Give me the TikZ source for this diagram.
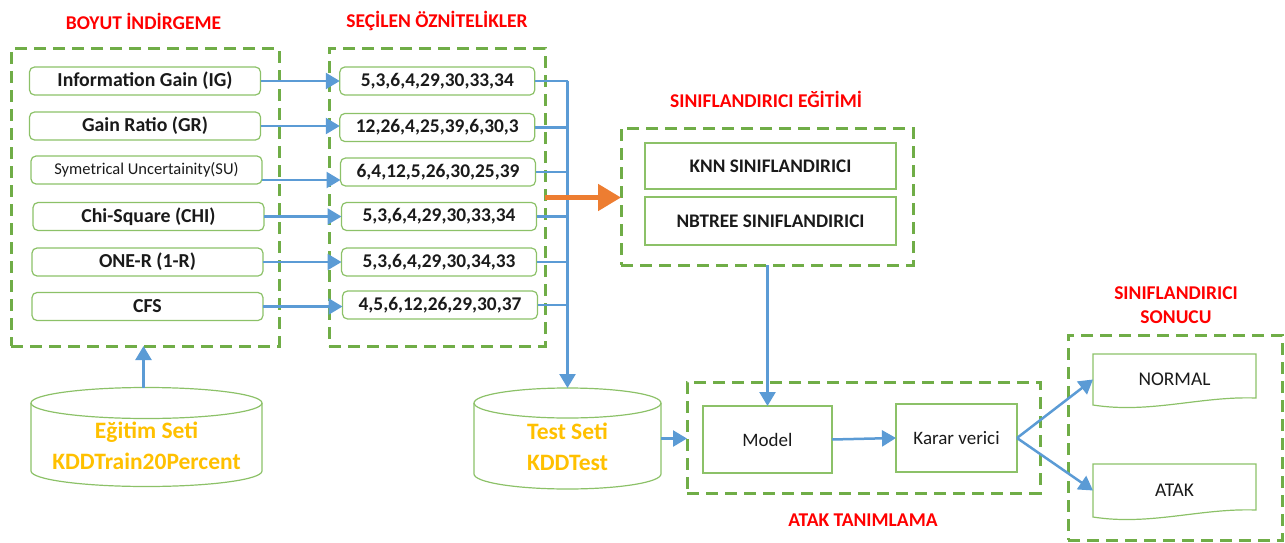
\documentclass[tikz,border=0pt]{standalone}
\usepackage{fontspec}
\setmainfont{Carlito}
\usetikzlibrary{arrows.meta,calc}
\definecolor{grn}{HTML}{70AD47}
\definecolor{lgrn}{HTML}{8CC168}
\definecolor{blu}{HTML}{5B9BD5}
\definecolor{org}{HTML}{ED7D31}
\definecolor{ylw}{HTML}{FFC000}
\definecolor{txt}{HTML}{1A1A1A}
\tikzset{
 grp/.style={draw=grn, line width=3pt, dash pattern=on 12pt off 7pt, inner sep=0pt, outer sep=0pt},
 ttl/.style={text=red, font=\fontsize{19.5}{24}\selectfont\bfseries, align=center},
 meth/.style={draw=lgrn, line width=1.2pt, rounded corners=5pt, minimum width=231pt, minimum height=28pt, inner sep=0pt, outer sep=0pt, font=\fontsize{19.8}{20}\selectfont\bfseries, text=txt},
 feat/.style={meth, minimum width=195pt, font=\fontsize{19.4}{20}\selectfont\bfseries},
 clfbox/.style={draw=lgrn, line width=1.2pt, minimum width=251pt, inner sep=0pt, outer sep=0pt, font=\fontsize{19.2}{20}\selectfont\bfseries, text=txt},
 plainbox/.style={draw=lgrn, line width=1.2pt, inner sep=0pt, outer sep=0pt, font=\fontsize{19}{20}\selectfont, text=txt},
 ghost/.style={inner sep=0pt, outer sep=0pt},
 cyl/.style={draw=lgrn, line width=1.2pt},
 cyltext/.style={text=ylw, font=\fontsize{23.5}{31}\selectfont\bfseries, align=center},
 arr/.style={draw=blu, line width=2.5pt, -{Triangle[length=14pt,width=16pt]}},
 lin/.style={draw=blu, line width=2.5pt},
 oarr/.style={draw=org, line width=5pt, -{Triangle[length=23pt,width=26pt]}},
}
\newcommand\docshape[1]{\draw[cyl] (#1.south west) -- (#1.north west) -- (#1.north east) -- ($(#1.south east)+(0,-7)$) .. controls ($(#1.south east)+(-56,-9)$) and ($(#1.south west)+(57,9)$) .. (#1.south west) -- cycle;}
\newcommand\cylshape[3]{\draw[cyl] (#1.north west) -- (#1.south west) arc[start angle=180, end angle=0, x radius=#2, y radius=#3] -- (#1.north east);
\draw[cyl] (#1.north) ellipse[x radius=#2, y radius=#3];}
\begin{document}
\begin{tikzpicture}[x=1pt,y=-1pt]
\useasboundingbox (0,0) rectangle (1285,543);
% titles
\node[ttl] (t1) at (143.5,21) {BOYUT İNDİRGEME};
\node[ttl] (t2) at (437,21) {SEÇİLEN ÖZNİTELİKLER};
\node[ttl] (t3) at (766,99) {SINIFLANDIRICI EĞİTİMİ};
\node[ttl] (t4) at (1176,305) {SINIFLANDIRICI\\SONUCU};
\node[ttl] (t5) at (863,520) {ATAK TANIMLAMA};
% group boxes
\node[grp, minimum width=268pt, minimum height=297pt] (dimred) at (145,197.5) {};
\node[grp, minimum width=216pt, minimum height=297pt] (selbox) at (437,197.5) {};
\node[grp, minimum width=292pt, minimum height=137pt] (clf) at (767,196.5) {};
\node[grp, minimum width=353pt, minimum height=111pt] (atakbox) at (863.5,437.5) {};
\node[grp, minimum width=214pt, minimum height=205pt] (sonuc) at (1175,437.5) {};
% methods
\node[meth] (m1) at (145,81) {Information Gain (IG)};
\node[meth] (m2) at (145,126) {Gain Ratio (GR)};
\node[meth, font=\fontsize{16.5}{18}\selectfont] (m3) at (146.5,170) {Symetrical Uncertainity(SU)};
\node[meth] (m4) at (148.5,216.5) {Chi-Square (CHI)};
\node[meth] (m5) at (147.5,262) {ONE-R (1-R)};
\node[meth] (m6) at (147.5,306.5) {CFS};
% features
\node[feat] (f1) at (437.3,81) {5,3,6,4,29,30,33,34};
\node[feat] (f2) at (437.3,127.5) {12,26,4,25,39,6,30,3};
\node[feat] (f3) at (438,172) {6,4,12,5,26,30,25,39};
\node[feat] (f4) at (439,216.5) {5,3,6,4,29,30,33,34};
\node[feat] (f5) at (439,262) {5,3,6,4,29,30,34,33};
\node[feat] (f6) at (440,305) {4,5,6,12,26,29,30,37};
% classifiers
\node[clfbox, minimum height=46pt] (knn) at (770.5,166) {KNN SINIFLANDIRICI};
\node[clfbox, minimum height=48pt] (nbt) at (770.5,221) {NBTREE SINIFLANDIRICI};
% attack detection
\node[plainbox, minimum width=129pt, minimum height=67pt] (model) at (767.5,439.5) {Model};
\node[plainbox, minimum width=121pt, minimum height=68pt] (karar) at (956.5,438) {Karar verici};
% results
\node[ghost, minimum width=163pt, minimum height=51pt, font=\fontsize{19.4}{20}\selectfont, text=txt] (normal) at (1174.5,379.5) {NORMAL};
\docshape{normal}
\node[ghost, minimum width=163pt, minimum height=53pt, font=\fontsize{19.4}{20}\selectfont, text=txt] (atak) at (1174.5,490.5) {ATAK};
\docshape{atak}
% cylinders
\node[ghost, minimum width=231pt, minimum height=68pt] (train) at (146.5,437) {};
\cylshape{train}{115.5}{15.5}
\node[cyltext] (traintxt) at ($(train.center)+(0,8.5)$) {Eğitim Seti\\KDDTrain20Percent};
\node[ghost, minimum width=187pt, minimum height=71pt] (test) at (567.5,438.5) {};
\cylshape{test}{93.5}{15}
\node[cyltext] (testtxt) at ($(test.center)+(0,8.5)$) {Test Seti\\KDDTest};
\coordinate (traintop) at ($(train.north)+(-3,-15.5)$);
\coordinate (testtop) at ($(test.north)+(0,-15)$);
% connectors methods -> features
\draw[arr] (m1.east) -- (m1.east -| f1.west);
\draw[arr] (m2.east) -- (m2.east -| f2.west);
\draw[arr] ($(m3.east)+(0,10)$) -- ($(m3.east -| f3.west)+(0,10)$);
\draw[arr] (m4.east) -- (m4.east -| f4.west);
\draw[arr] (m5.east) -- (m5.east -| f5.west);
\draw[arr] (m6.east) -- (m6.east -| f6.west);
% bus
\foreach \f in {f1,f2,f3,f4,f5,f6} {\draw[lin] (\f.east) -- (\f.east -| test.north);}
\draw[arr] (f1.east -| test.north) -- (testtop);
% training arrow
\draw[arr] (traintop) -- (traintop |- dimred.south);
% orange
\draw[oarr] (selbox.east) -- (selbox.east -| clf.west);
% down to model
\draw[arr] (clf.south -| model.north) -- (model.north);
\draw[arr] (test.east) -- (test.east -| atakbox.west);
\draw[arr] (model.east) -- (karar.west);
\draw[arr] (karar.east) -- (normal.west);
\draw[arr] (karar.east) -- (atak.west);
\end{tikzpicture}
\end{document}
